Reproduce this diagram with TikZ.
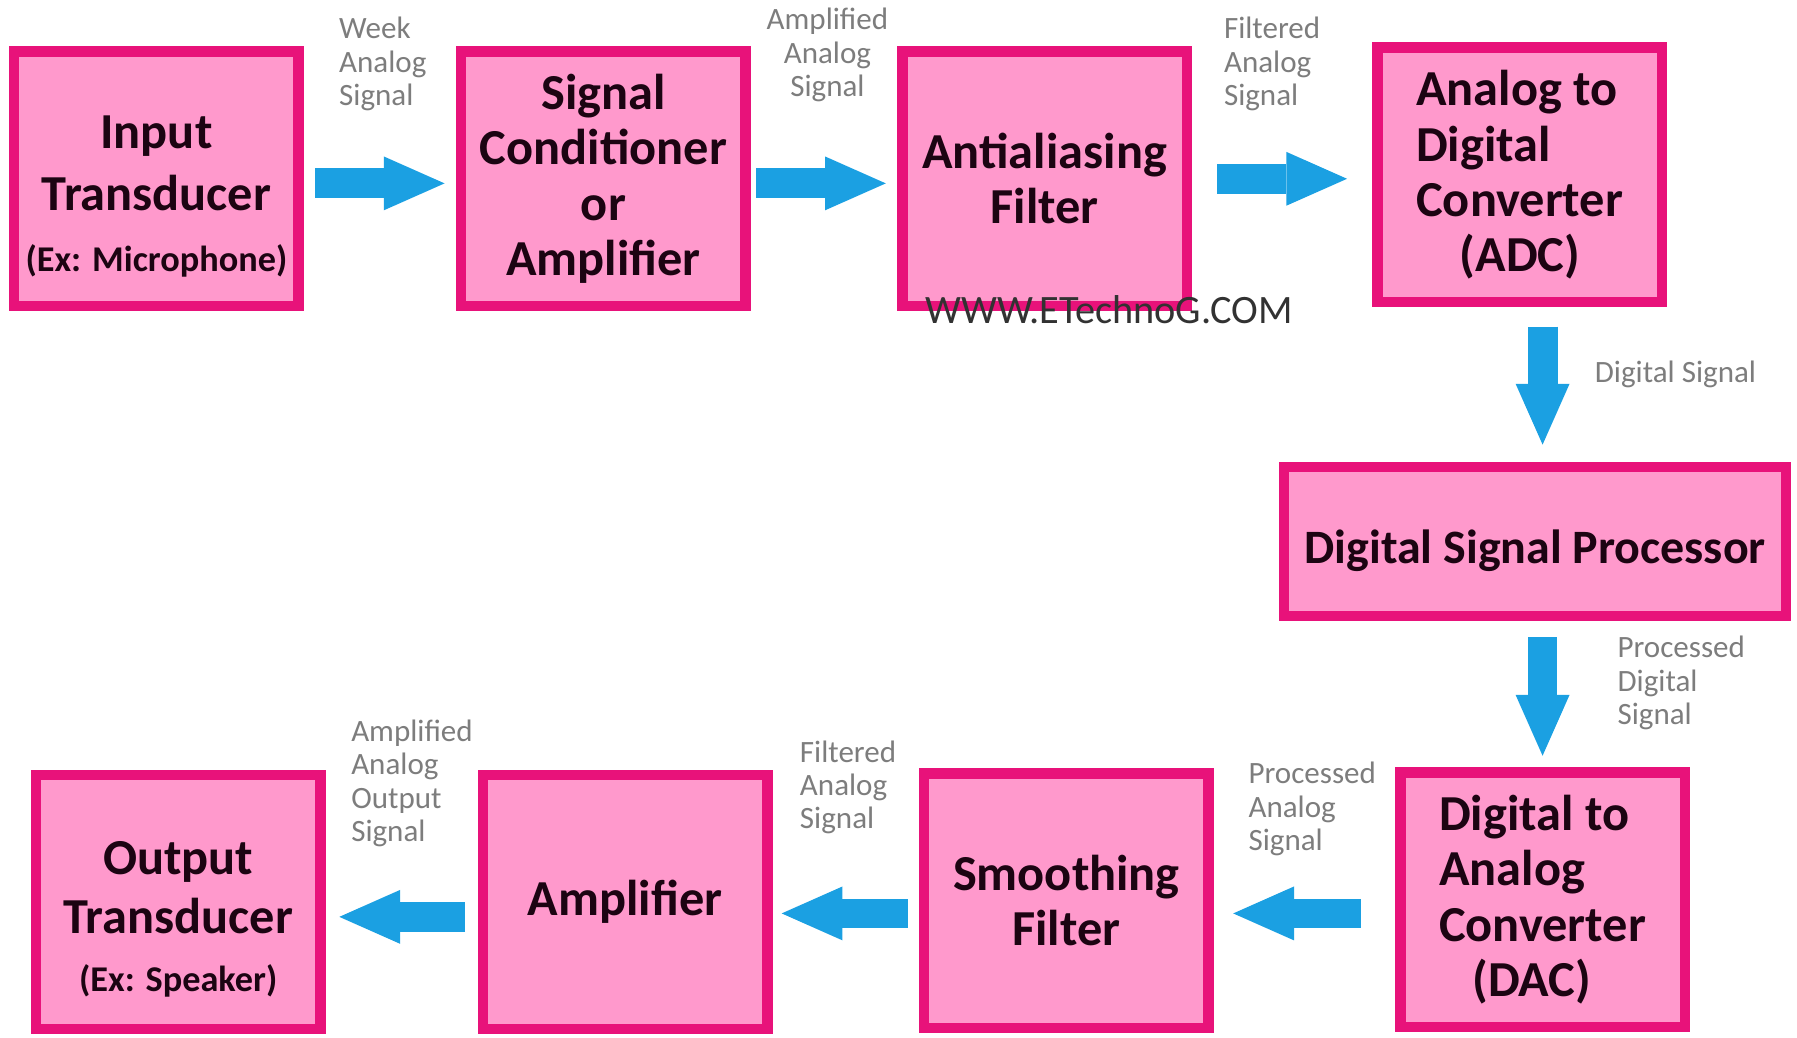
\documentclass[tikz,border=0pt]{standalone}
\usepackage{fontspec}
\setmainfont{Carlito}
\usepackage{tikz}
\usetikzlibrary{arrows.meta}
\definecolor{boxpink}{RGB}{255,153,204}
\definecolor{edgepink}{RGB}{232,18,122}
\definecolor{flowblue}{RGB}{27,160,226}
\definecolor{notegray}{RGB}{125,125,125}
\definecolor{inkdark}{RGB}{28,4,18}
\definecolor{webgray}{RGB}{50,50,50}
\tikzset{
  block/.style={draw=edgepink, fill=boxpink, line width=0.09cm,
    minimum width=2.48cm, minimum height=2.22cm, inner sep=0pt,
    text=inkdark, align=center, font=\fontsize{12.5}{13.7}\selectfont\bfseries},
  flow/.style={draw=flowblue, line width=0.26cm,
    -{Triangle[length=0.53cm, width=0.47cm, line width=0pt]}},
  note/.style={text=notegray, inner sep=0pt, font=\fontsize{7.7}{8.3}\selectfont}
}
\newcommand{\smalltext}{\fontsize{9}{11}\selectfont}
\newcommand{\topgap}{\rule{0pt}{17pt}}

\begin{document}
\begin{tikzpicture}[x=0.01cm, y=-0.01cm]
\useasboundingbox (0,0) rectangle (1568,905);
% Analog input side
\node[block, font=\fontsize{12.5}{15.2}\selectfont\bfseries] (in) at (136.5,156) {\topgap Input\\Transducer\\{\smalltext(Ex: Microphone)}};
\node[block] (cond) at (526.5,156) {Signal\\Conditioner\\or\\Amplifier};
\node[block] (anti) at (911.5,156) {Antialiasing\\Filter};
\node[block, align=left] (adc) at (1326,152.5) {Analog to\\Digital\\Converter\\\hspace*{0.38cm}(ADC)};
% Processor
\node[block, minimum width=4.38cm, minimum height=1.30cm, font=\fontsize{11.9}{13}\selectfont\bfseries] (dsp) at (1339.5,472.5) {\rule{0pt}{13pt}Digital Signal Processor};
% Analog output side
\node[block, align=left] (dac) at (1346,785) {Digital to\\Analog\\Converter\\\hspace*{0.29cm}(DAC)};
\node[block] (smooth) at (930.5,786) {Smoothing\\Filter};
\node[block] (amp) at (545.5,787) {Amplifier};
\node[block, font=\fontsize{12.5}{14.5}\selectfont\bfseries] (out) at (155.5,787) {\topgap Output\\Transducer\\{\smalltext(Ex: Speaker)}};
% watermark
\node[text=webgray, font=\fontsize{10}{12}\selectfont, inner sep=0pt] (web) at (968,270) {WWW.ETechnoG.COM};
% signal flow
\draw[flow] ([xshift=0.1cm,yshift=-0.04cm]in.east) -- ([xshift=-0.1cm,yshift=-0.04cm]cond.west);
\draw[flow] ([xshift=0.05cm,yshift=-0.04cm]cond.east) -- ([xshift=-0.1cm,yshift=-0.04cm]anti.west);
\draw[flow] ([xshift=0.22cm]anti.east) -- ([xshift=-0.22cm]anti.east -| adc.west);
\draw[flow] ([xshift=0.2cm,yshift=-0.17cm]adc.south) -- ([xshift=0.2cm,yshift=0.15cm]adc.south |- dsp.north);
\draw[flow] ([yshift=-0.14cm]dac.north |- dsp.south) -- ([yshift=0.1cm]dac.north);
\draw[flow] ([xshift=-0.3cm,yshift=-0.12cm]dac.west) -- ([xshift=0.17cm,yshift=-0.12cm]dac.west -| smooth.east);
\draw[flow] ([xshift=-0.1cm,yshift=-0.11cm]smooth.west) -- ([xshift=0.08cm,yshift=-0.11cm]smooth.west -| amp.east);
\draw[flow] ([xshift=-0.11cm,yshift=-0.13cm]amp.west) -- ([xshift=0.12cm,yshift=-0.13cm]amp.west -| out.east);
% signal names
\node[note, align=left] (weak) at (334,56) {Week\\Analog\\Signal};
\node[note, align=center] (ampsig) at (722,48) {Amplified\\Analog\\Signal};
\node[note, align=left] (filtsig) at (1110,56) {Filtered\\Analog\\Signal};
\node[note] (digsig) at (1462,327) {Digital Signal};
\node[note, align=left] (procdig) at (1467,596) {Processed\\Digital\\Signal};
\node[note, align=left] (procana) at (1145,706) {Processed\\Analog\\Signal};
\node[note, align=left] (filtana) at (740,687) {Filtered\\Analog\\Signal};
\node[note, align=left] (ampout) at (359.5,683.5) {Amplified\\Analog\\Output\\Signal};
\end{tikzpicture}
\end{document}
